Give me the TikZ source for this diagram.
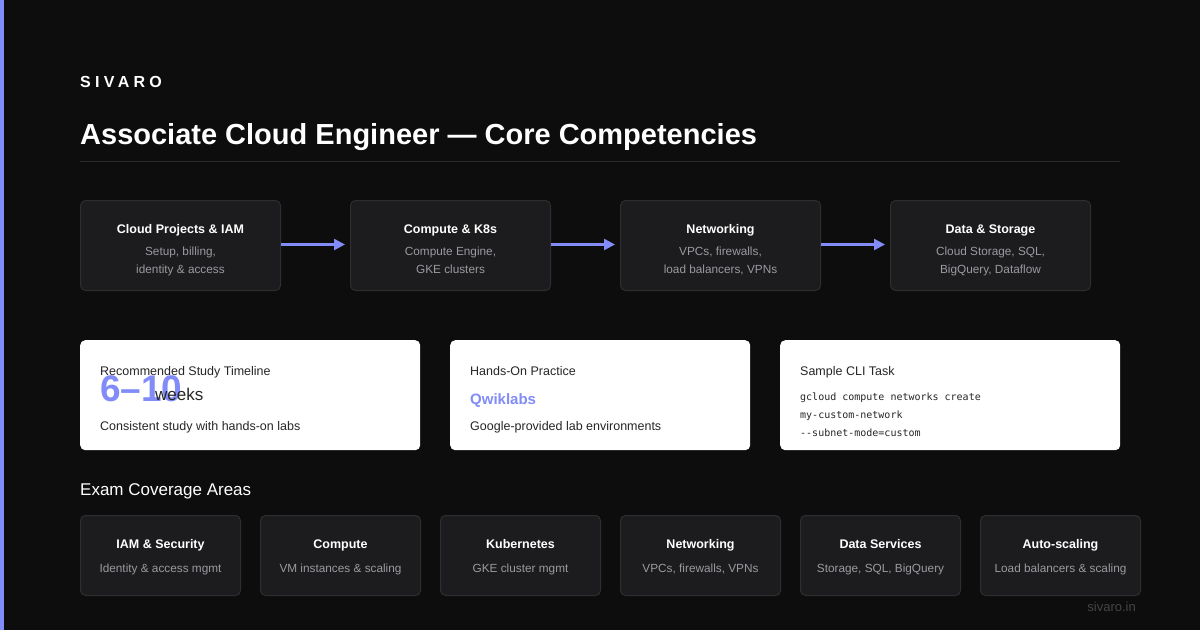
\documentclass[tikz,border=0pt]{standalone}
\usepackage{fontspec}
\setmainfont{Liberation Sans}
\setmonofont{DejaVu Sans Mono}
\usetikzlibrary{positioning,arrows.meta}

\definecolor{bgdark}{HTML}{0D0D0D}
\definecolor{cardfill}{HTML}{1C1C1E}
\definecolor{cardline}{HTML}{2E2E31}
\definecolor{accent}{HTML}{818CF8}
\definecolor{subgray}{HTML}{9A9AA0}
\definecolor{inkdark}{HTML}{262626}
\definecolor{rulegray}{HTML}{2A2A2A}
\definecolor{footgray}{HTML}{454545}

\begin{document}
\begin{tikzpicture}[x=1pt,y=-1pt,
    stepbox/.style={draw=cardline, fill=cardfill, line width=1pt, rounded corners=5pt,
      anchor=north west, minimum width=200pt, minimum height=90pt, inner sep=0pt},
    areabox/.style={stepbox, minimum width=160pt, minimum height=80pt},
    whitecard/.style={fill=white, rounded corners=5pt, anchor=north west,
      minimum height=110pt, inner sep=0pt},
    boxtitle/.style={anchor=base, inner sep=0pt, text=white, font=\bfseries\fontsize{12.5}{15}\selectfont},
    boxsub/.style={anchor=base, inner sep=0pt, text=subgray, align=center, font=\fontsize{11.8}{18}\selectfont},
    cardtext/.style={anchor=base west, inner sep=0pt, text=inkdark, font=\fontsize{12.5}{15}\selectfont},
    clitext/.style={anchor=base west, inner sep=0pt, text=inkdark, font=\ttfamily\fontsize{10}{12}\selectfont},
    flowarrow/.style={draw=accent, line width=2.5pt, -{Triangle[length=11pt,width=11pt]}}]

  % Canvas and side bar
  \fill[bgdark] (0,0) rectangle (1200,630);
  \useasboundingbox (0,0) rectangle (1200,630);
  \fill[accent] (0,0) rectangle (4,630);

  % Heading
  \node[anchor=base west, inner sep=0pt, text=white, font=\bfseries\fontsize{16}{18}\selectfont\addfontfeature{LetterSpace=27}] (brand) at (80,87) {SIVARO};
  \node[anchor=base west, inner sep=0pt, text=white, font=\bfseries\fontsize{29}{32}\selectfont] (title) at (80,144) {Associate Cloud Engineer — Core Competencies};
  \draw[rulegray, line width=1pt] (80,161) -- (1120,161);

  % Top row: study path
  \node[stepbox] (proj) at (80,200) {};
  \node[stepbox] (comp) at (350,200) {};
  \node[stepbox] (net) at (620,200) {};
  \node[stepbox] (data) at (890,200) {};

  \node[boxtitle] at ([yshift=-33pt]proj.north) {Cloud Projects \& IAM};
  \node[boxsub] at ([yshift=-73pt]proj.north) {Setup, billing,\\identity \& access};
  \node[boxtitle] at ([yshift=-33pt]comp.north) {Compute \& K8s};
  \node[boxsub] at ([yshift=-73pt]comp.north) {Compute Engine,\\GKE clusters};
  \node[boxtitle] at ([yshift=-33pt]net.north) {Networking};
  \node[boxsub] at ([yshift=-73pt]net.north) {VPCs, firewalls,\\load balancers, VPNs};
  \node[boxtitle] at ([yshift=-33pt]data.north) {Data \& Storage};
  \node[boxsub] at ([yshift=-73pt]data.north) {Cloud Storage, SQL,\\BigQuery, Dataflow};

  \draw[flowarrow] ([yshift=1pt]proj.east) -- ([xshift=-5pt,yshift=1pt]comp.west);
  \draw[flowarrow] ([yshift=1pt]comp.east) -- ([xshift=-5pt,yshift=1pt]net.west);
  \draw[flowarrow] ([yshift=1pt]net.east) -- ([xshift=-5pt,yshift=1pt]data.west);

  % Middle row: white cards
  \node[whitecard, minimum width=340pt] (timeline) at (80,340) {};
  \node[whitecard, minimum width=300pt] (handson) at (450,340) {};
  \node[whitecard, minimum width=340pt] (cli) at (780,340) {};

  \node[cardtext] at (100,375) {Recommended Study Timeline};
  \node[anchor=base west, inner sep=0pt, text=accent, font=\bfseries\fontsize{37}{40}\selectfont] (weeksnum) at (100,401) {6–10};
  \node[anchor=base west, inner sep=0pt, text=inkdark, font=\fontsize{17}{20}\selectfont] at (155,400) {weeks};
  \node[cardtext] at (100,430) {Consistent study with hands-on labs};

  \node[cardtext] at (470,375) {Hands-On Practice};
  \node[anchor=base west, inner sep=0pt, text=accent, font=\bfseries\fontsize{15}{18}\selectfont] at (470,404) {Qwiklabs};
  \node[cardtext] at (470,430) {Google-provided lab environments};

  \node[cardtext] at (800,375) {Sample CLI Task};
  \node[clitext] at (800,400) {gcloud compute networks create};
  \node[clitext] at (800,418) {my-custom-network};
  \node[clitext] at (800,436) {--subnet-mode=custom};

  % Bottom row: exam areas
  \node[anchor=base west, inner sep=0pt, text=white, font=\fontsize{17}{20}\selectfont] (examhead) at (80,495) {Exam Coverage Areas};

  \node[areabox] (iam) at (80,515) {};
  \node[areabox] (compute) at (260,515) {};
  \node[areabox] (kube) at (440,515) {};
  \node[areabox] (netw) at (620,515) {};
  \node[areabox] (dsvc) at (800,515) {};
  \node[areabox] (scale) at (980,515) {};

  \node[boxtitle] at ([yshift=-33pt]iam.north) {IAM \& Security};
  \node[boxsub] at ([yshift=-57pt]iam.north) {Identity \& access mgmt};
  \node[boxtitle] at ([yshift=-33pt]compute.north) {Compute};
  \node[boxsub] at ([yshift=-57pt]compute.north) {VM instances \& scaling};
  \node[boxtitle] at ([yshift=-33pt]kube.north) {Kubernetes};
  \node[boxsub] at ([yshift=-57pt]kube.north) {GKE cluster mgmt};
  \node[boxtitle] at ([yshift=-33pt]netw.north) {Networking};
  \node[boxsub] at ([yshift=-57pt]netw.north) {VPCs, firewalls, VPNs};
  \node[boxtitle] at ([yshift=-33pt]dsvc.north) {Data Services};
  \node[boxsub] at ([yshift=-57pt]dsvc.north) {Storage, SQL, BigQuery};
  \node[boxtitle] at ([yshift=-33pt]scale.north) {Auto-scaling};
  \node[boxsub] at ([yshift=-57pt]scale.north) {Load balancers \& scaling};

  % Footer
  \node[anchor=base east, inner sep=0pt, text=footgray, font=\fontsize{13}{15}\selectfont] (footer) at (1136,611) {sivaro.in};
\end{tikzpicture}
\end{document}
